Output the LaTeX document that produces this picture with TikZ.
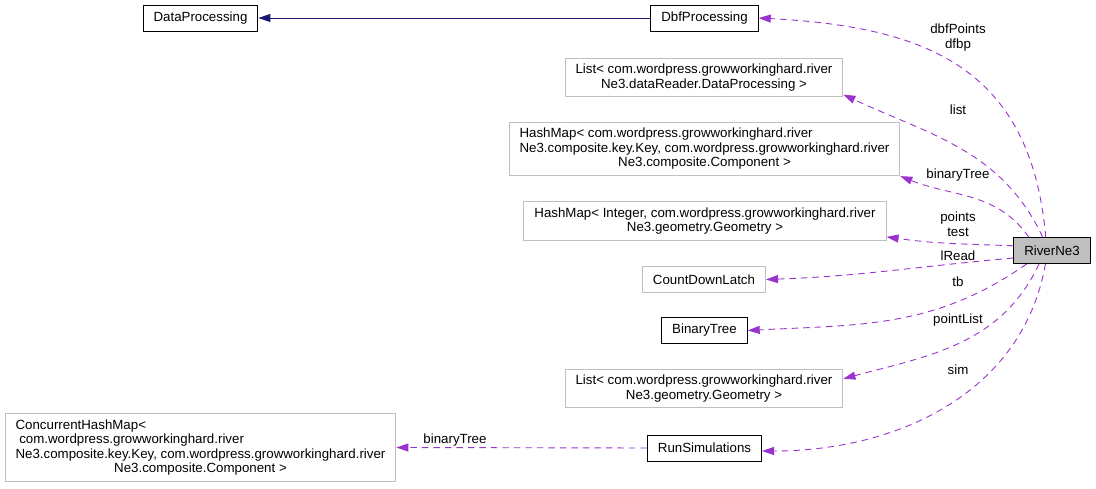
\documentclass[tikz,border=0pt]{standalone}
\usepackage{fontspec}
\setmainfont{Liberation Sans}
\usetikzlibrary{arrows.meta,positioning}
\definecolor{edgepurple}{HTML}{9A32CD}
\definecolor{edgeblue}{HTML}{191970}
\definecolor{boxgray}{HTML}{BFBFBF}
\newcommand\diafont{\fontsize{13.3}{14.5}\selectfont}
\newlength\widestline
% left-justify #2 in a box as wide as #1
\newcommand\padline[2]{\settowidth\widestline{#1}\makebox[\widestline][l]{#2}}

\begin{document}
\begin{tikzpicture}[x=1pt, y=1pt,
  cls/.style={draw=black, line width=0.9pt, fill=white, minimum height=26pt,
              inner xsep=10.5pt, inner ysep=6pt, font=\diafont, align=center},
  ext/.style={cls, draw=boxgray},
  main/.style={cls, fill=boxgray},
  lbl/.style={font=\diafont, align=center, inner sep=0pt},
  use/.style={edgepurple, dash pattern=on 6.5pt off 5pt, line width=0.9pt,
              -{Triangle[length=12pt,width=8pt]}},
  inherit/.style={edgeblue, line width=0.9pt, -{Triangle[length=12pt,width=8pt]}}
]
\useasboundingbox (0,0) rectangle (1096,-489);

% classes
\node[cls] (dataproc) at (200.5,-18) {DataProcessing};
\node[cls] (dbf) at (704.5,-18) {DbfProcessing};
\node[ext] (listdp) at (704,-77.5)
  {List< com.wordpress.growworkinghard.river\\Ne3.dataReader.DataProcessing >};
\node[ext] (hmkey) at (704.5,-149)
  {\padline{Ne3.composite.key.Key, com.wordpress.growworkinghard.river}{HashMap< com.wordpress.growworkinghard.river}\\
   Ne3.composite.key.Key, com.wordpress.growworkinghard.river\\Ne3.composite.Component >};
\node[ext] (hmint) at (705,-221)
  {HashMap< Integer, com.wordpress.growworkinghard.river\\Ne3.geometry.Geometry >};
\node[ext] (latch) at (704,-279.5) {CountDownLatch};
\node[main] (river) at (1052,-250.5) {RiverNe3};
\node[cls] (btree) at (704.5,-330.5) {BinaryTree};
\node[ext] (listgeo) at (704,-388.5)
  {List< com.wordpress.growworkinghard.river\\Ne3.geometry.Geometry >};
\node[cls] (runsim) at (704.5,-448) {RunSimulations};
\node[ext] (chm) at (200.5,-447.5)
  {\padline{Ne3.composite.key.Key, com.wordpress.growworkinghard.river}{ConcurrentHashMap<}\\
   \padline{Ne3.composite.key.Key, com.wordpress.growworkinghard.river}{\ com.wordpress.growworkinghard.river}\\
   Ne3.composite.key.Key, com.wordpress.growworkinghard.river\\Ne3.composite.Component >};

% inheritance
\draw[inherit] (dbf.west) -- (dataproc.east);

% members of RiverNe3
\draw[use] (river.115) to[out=95, in=-3, looseness=1.2] (dbf.east);
\draw[use] (river.125) to[out=115, in=-25] (listdp.-7);
\draw[use] (river.150) to[out=125, in=-22] (hmkey.south east);
\draw[use] (river.173) to[out=178, in=-8] (hmint.-5);
\draw[use] (river.191) to[out=185, in=2] (latch.east);
\draw[use] (river.208) to[out=215, in=3] (btree.east);
\draw[use] (river.226) to[out=245, in=15] (listgeo.4);
\draw[use] (river.244) to[out=260, in=0] (runsim.-3);
\draw[use] (runsim.west) -- (chm.east);

% labels
\node[lbl] (l1) at (958,-37.5) {dbfPoints\\dfbp};
\node[lbl] (l2) at (958,-110) {list};
\node[lbl] (l3) at (958,-175) {binaryTree};
\node[lbl] (l4) at (958,-224) {points\\test};
\node[lbl] (l5) at (958,-256) {lRead};
\node[lbl] (l6) at (958,-282) {tb};
\node[lbl] (l7) at (958,-320) {pointList};
\node[lbl] (l8) at (958,-370) {sim};
\node[lbl] (l9) at (455,-440) {binaryTree};
\end{tikzpicture}
\end{document}
